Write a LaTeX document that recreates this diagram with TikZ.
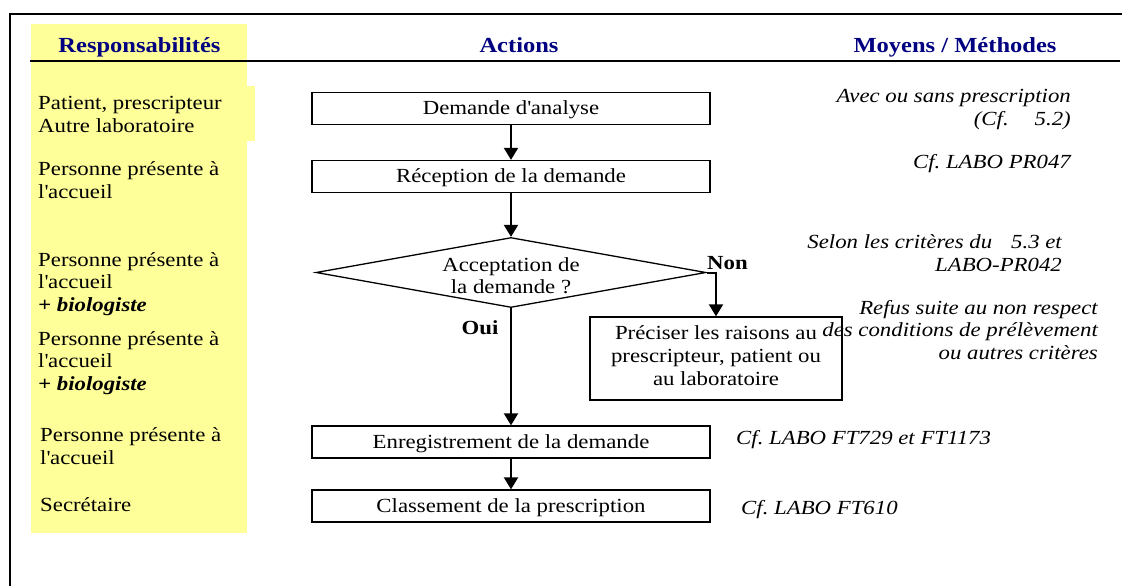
\documentclass[tikz,border=0pt]{standalone}
\usepackage{fontspec}
\setmainfont{Liberation Serif}[FakeStretch=1.14]
\usetikzlibrary{shapes.geometric,arrows.meta}
\definecolor{hdr}{HTML}{000080}
\definecolor{yel}{HTML}{FFFF99}
\newcommand{\apos}{\textquotesingle}
\begin{document}
\begin{tikzpicture}[x=1pt,y=-1pt,
  every node/.style={font=\fontsize{20}{22.5}\selectfont, inner sep=0pt},
  actbox/.style={draw, line width=1.3pt, minimum width=398pt, minimum height=32pt, align=center, text height=12pt, text depth=0pt},
  arr/.style={line width=2pt, -{Triangle[length=12pt,width=14pt]}},
  hdrtxt/.style={font=\fontsize{21.5}{24}\selectfont\bfseries, text=hdr, anchor=base},
  resp/.style={align=left, anchor=base west},
  meth/.style={align=right, anchor=base east, font=\fontsize{20}{22.5}\selectfont\itshape},
  lbl/.style={font=\fontsize{20}{22.5}\selectfont\bfseries}
]
\useasboundingbox (0,0) rectangle (1122,586);
% yellow column
\fill[yel] (31,24) rectangle (247,533);
\fill[yel] (247,86) rectangle (255,141);
% frame and header rule
\draw[line width=1.6pt] (10,586) -- (10,14) -- (1122,14);
\draw[line width=1.4pt] (30,61) -- (1120,61);
% headers
\node[hdrtxt] (hresp) at (139.5,53) {Responsabilités};
\node[hdrtxt] (hact) at (519,53) {Actions};
\node[hdrtxt] (hmoy) at (955,53) {Moyens / Méthodes};
% actions
\node[actbox] (dem) at (511,108.3) {Demande d\apos analyse};
\node[actbox] (rec) at (511,176.5) {Réception de la demande};
\node[draw, diamond, aspect=5.6, minimum width=390pt, minimum height=70pt, line width=1.3pt, align=center, text height=42pt, text depth=0pt] (dia) at (511,272.5) {Acceptation de\\la demande ?};
\node[draw, line width=1.3pt, minimum width=252pt, minimum height=83pt, align=center, font=\fontsize{20}{23}\selectfont, text height=54pt, text depth=0pt] (prec) at (716,358.5) {Préciser les raisons au\\prescripteur, patient ou\\au laboratoire};
\node[actbox] (enr) at (511,442) {Enregistrement de la demande};
\node[actbox] (cla) at (511,506) {Classement de la prescription};
% connectors
\draw[arr] (dem) -- (rec);
\draw[arr] (rec) -- (dia);
\draw[arr] (dia.south) -- (enr.north);
\draw[arr] (enr) -- (cla);
\draw[arr] (dia.east) -| (prec.north);
\node[lbl, anchor=base west] (non) at (707,269) {Non};
\node[lbl, anchor=base] (oui) at (480,334) {Oui};
% responsibilities (base = last line)
\node[resp] (r1) at (38,132) {Patient, prescripteur\\Autre laboratoire};
\node[resp] (r2) at (38,198) {Personne présente à\\l\apos accueil};
\node[resp] (r3) at (38,311) {Personne présente à\\l\apos accueil\\{\bfseries\itshape + biologiste}};
\node[resp] (r4) at (38,390) {Personne présente à\\l\apos accueil\\{\bfseries\itshape + biologiste}};
\node[resp] (r5) at (40,464) {Personne présente à\\l\apos accueil};
\node[resp] (r6) at (40,511) {Secrétaire};
% methods (base = last line)
\node[meth] (m1) at (1071,125) {Avec ou sans prescription\\(Cf.\hspace{26pt}5.2)};
\node[meth] (m2) at (1071,168) {Cf.\ LABO PR047};
\node[meth] (m3) at (1062,271) {Selon les critères du\hspace{19pt}5.3 et\\LABO-PR042};
\node[meth] (m4) at (1098,359) {Refus suite au non respect\\des conditions de prélèvement\\ou autres critères};
\node[meth, anchor=base west, align=left] (m5) at (736,444) {Cf.\ LABO FT729 et FT1173};
\node[meth, anchor=base west, align=left] (m6) at (741,514) {Cf.\ LABO FT610};
\end{tikzpicture}
\end{document}
